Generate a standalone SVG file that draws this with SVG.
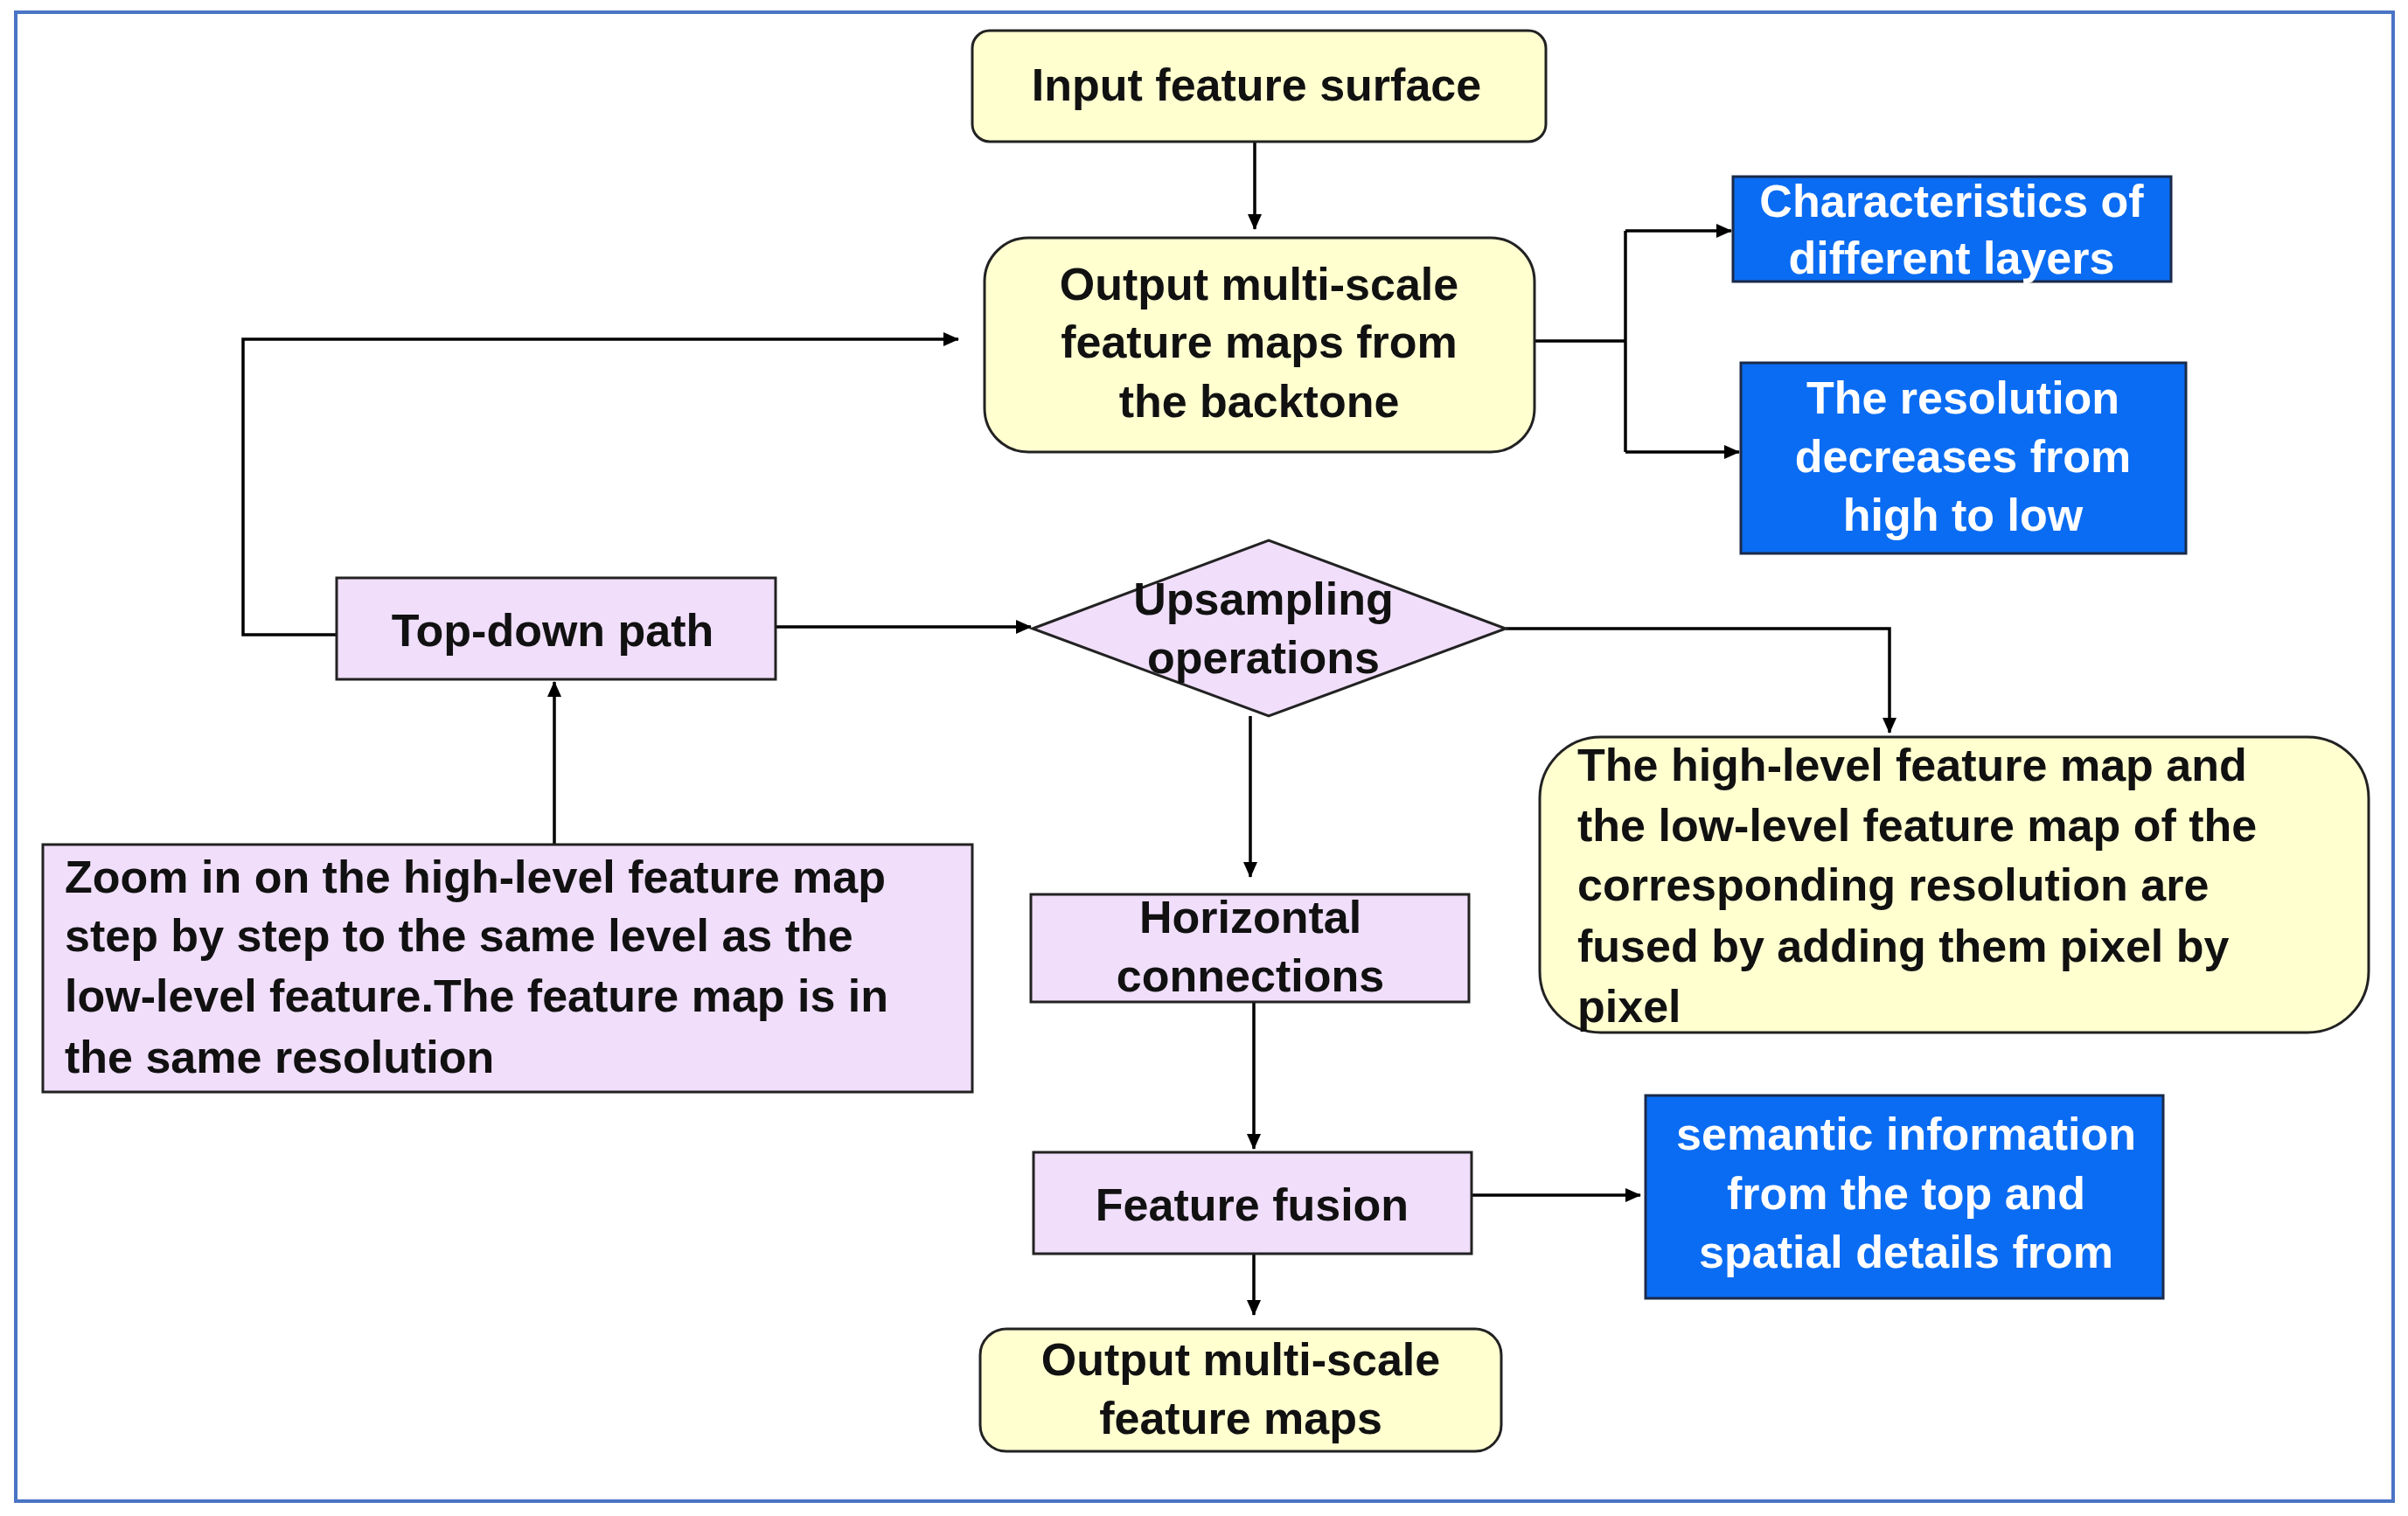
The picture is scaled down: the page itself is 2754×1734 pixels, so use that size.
<svg xmlns="http://www.w3.org/2000/svg" width="2754" height="1734" viewBox="0 0 2754 1734">
<defs>
<marker id="ah" markerWidth="18" markerHeight="16" refX="17" refY="8" orient="auto" markerUnits="userSpaceOnUse" viewBox="0 0 18 16"><path d="M0,0 L18,8 L0,16 z" fill="#000"/></marker>
<style>
text{font-family:"Liberation Sans",Arial,sans-serif;font-weight:bold;font-size:52px;fill:#111}
.c{text-anchor:middle}
.w{fill:#fff}
.y{fill:#FFFFD0;stroke:#222;stroke-width:3}
.p{fill:#F0DEFA;stroke:#222;stroke-width:3}
.b{fill:#0A6CF2;stroke:#1a2a4a;stroke-width:3}
.ln{fill:none;stroke:#000;stroke-width:3.5}
</style>
</defs>
<rect width="2754" height="1734" fill="#fff"/>
<rect x="18" y="14" width="2719" height="1703" fill="none" stroke="#4A74C4" stroke-width="4"/>
<g id="connectors">
<path class="ln" d="M1435,162 V262" marker-end="url(#ah)"/>
<path class="ln" d="M1755,390 H1859 M1859,264 V517"/>
<path class="ln" d="M1859,264 H1980" marker-end="url(#ah)"/>
<path class="ln" d="M1859,517 H1989" marker-end="url(#ah)"/>
<path class="ln" d="M385,726 H278 V388 H1096" marker-end="url(#ah)"/>
<path class="ln" d="M887,717 H1179" marker-end="url(#ah)"/>
<path class="ln" d="M1722,719 H2161 V838" marker-end="url(#ah)"/>
<path class="ln" d="M1430,819 V1003" marker-end="url(#ah)"/>
<path class="ln" d="M1434,1146 V1314" marker-end="url(#ah)"/>
<path class="ln" d="M1683,1367 H1876" marker-end="url(#ah)"/>
<path class="ln" d="M1434,1434 V1504" marker-end="url(#ah)"/>
<path class="ln" d="M634,966 V780" marker-end="url(#ah)"/>
</g>
<g id="input"><rect class="y" x="1112" y="35" width="656" height="127" rx="20"/><text class="c" x="1437" y="115">Input feature surface</text></g>
<g id="backbone"><rect class="y" x="1126" y="272" width="629" height="245" rx="50"/>
<text class="c" x="1440" y="343">Output multi-scale</text><text class="c" x="1440" y="409">feature maps from</text><text class="c" x="1440" y="477">the backtone</text></g>
<g id="characteristics"><rect class="b" x="1982" y="202" width="501" height="120"/>
<text class="c w" x="2232" y="248">Characteristics of</text><text class="c w" x="2232" y="313">different layers</text></g>
<g id="resolution"><rect class="b" x="1991" y="415" width="509" height="218"/>
<text class="c w" x="2245" y="473">The resolution</text><text class="c w" x="2245" y="540">decreases from</text><text class="c w" x="2245" y="607">high to low</text></g>
<g id="topdown"><rect class="p" x="385" y="661" width="502" height="116"/><text class="c" x="632" y="739">Top-down path</text></g>
<g id="upsampling"><polygon class="p" points="1181,719 1451,618 1722,719 1451,819"/>
<text class="c" x="1445" y="703">Upsampling</text><text class="c" x="1445" y="770">operations</text></g>
<g id="fused"><rect class="y" x="1761" y="843" width="948" height="338" rx="70"/>
<text x="1804" y="893">The high-level feature map and</text>
<text x="1804" y="962">the low-level feature map of the</text>
<text x="1804" y="1030">corresponding resolution are</text>
<text x="1804" y="1100">fused by adding them pixel by</text>
<text x="1804" y="1169">pixel</text></g>
<g id="zoom"><rect class="p" x="49" y="966" width="1063" height="283"/>
<text x="74" y="1021">Zoom in on the high-level feature map</text>
<text x="74" y="1088">step by step to the same level as the</text>
<text x="74" y="1157">low-level feature.The feature map is in</text>
<text x="74" y="1227">the same resolution</text></g>
<g id="horizontal"><rect class="p" x="1179" y="1023" width="501" height="123"/>
<text class="c" x="1430" y="1067">Horizontal</text><text class="c" x="1430" y="1134">connections</text></g>
<g id="fusion"><rect class="p" x="1182" y="1318" width="501" height="116"/><text class="c" x="1432" y="1396">Feature fusion</text></g>
<g id="semantic"><rect class="b" x="1882" y="1253" width="592" height="232"/>
<text class="c w" x="2180" y="1315">semantic information</text><text class="c w" x="2180" y="1383">from the top and</text><text class="c w" x="2180" y="1450">spatial details from</text></g>
<g id="output"><rect class="y" x="1121" y="1520" width="596" height="140" rx="30"/>
<text class="c" x="1419" y="1573">Output multi-scale</text><text class="c" x="1419" y="1640">feature maps</text></g>
</svg>
